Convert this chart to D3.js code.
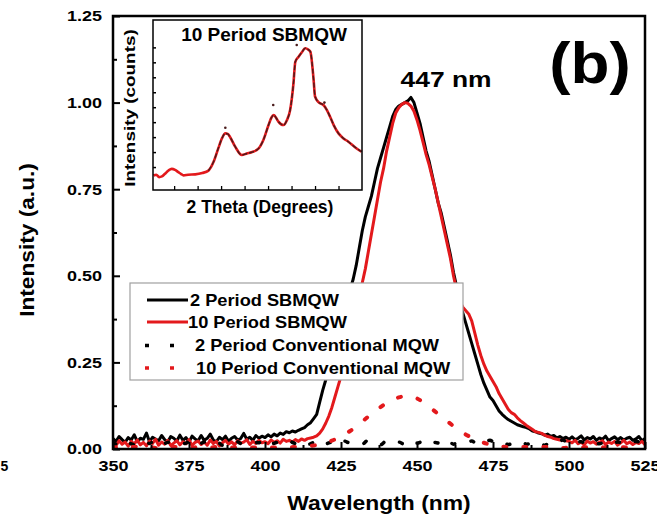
<!DOCTYPE html>
<html>
<head>
<meta charset="utf-8">
<script src="https://cdn.jsdelivr.net/npm/d3@7"></script>
<style>
  body { margin: 0; background: #fff; }
  svg text { font-family: "Liberation Sans", Arial, Helvetica, sans-serif; font-weight: bold; fill: #000; }
</style>
</head>
<body>
<svg id="chart" width="657" height="516"></svg>
<script>
// ---- PL spectra, sampled every 1 nm from 350 nm to 525 nm ----
const sbmqw2Period = [
  .030,.022,.036,.027,.019,.033,.026,.041,.021,.031,
  .028,.046,.021,.034,.029,.024,.039,.027,.020,.036,
  .031,.023,.040,.025,.033,.020,.037,.029,.024,.039,
  .025,.031,.043,.026,.021,.034,.027,.037,.022,.031,
  .036,.026,.030,.045,.028,.034,.025,.039,.031,.037,
  .033,.041,.035,.043,.038,.046,.042,.050,.047,.052,
  .049,.054,.058,.062,.070,.076,.088,.100,.135,.170,
  .200,.235,.270,.300,.330,.365,.400,.430,.460,.490,
  .530,.580,.630,.670,.700,.730,.770,.810,.840,.870,
  .900,.930,.960,.980,.990,.995,1.000,1.005,1.015,1.000,
  .970,.940,.900,.860,.830,.790,.750,.710,.680,.640,
  .600,.560,.510,.470,.430,.395,.365,.335,.305,.275,
  .245,.215,.190,.170,.150,.140,.125,.110,.100,.092,
  .085,.080,.075,.070,.067,.064,.062,.058,.052,.050,
  .046,.044,.040,.043,.036,.039,.032,.036,.030,.034,
  .028,.035,.027,.031,.038,.026,.033,.029,.036,.025,
  .032,.028,.037,.024,.030,.035,.027,.033,.026,.031,
  .034,.025,.029,.036,.024,.030
];
const sbmqw10Period = [
  .018,.010,.024,.014,.020,.008,.022,.015,.026,.012,
  .019,.009,.023,.016,.028,.011,.020,.014,.025,.010,
  .017,.024,.012,.021,.015,.027,.010,.019,.023,.013,
  .020,.011,.026,.016,.022,.009,.018,.025,.014,.021,
  .012,.024,.017,.020,.027,.013,.022,.016,.025,.018,
  .021,.015,.026,.019,.024,.017,.028,.022,.025,.020,
  .027,.022,.029,.025,.030,.032,.034,.038,.046,.058,
  .075,.095,.120,.150,.180,.210,.245,.280,.320,.360,
  .400,.440,.480,.520,.570,.620,.670,.720,.770,.810,
  .860,.900,.940,.970,.985,.995,1.000,.998,.990,.975,
  .950,.920,.885,.850,.820,.785,.750,.710,.670,.630,
  .590,.550,.500,.460,.430,.410,.400,.390,.370,.335,
  .300,.270,.245,.225,.210,.195,.180,.160,.145,.130,
  .115,.105,.100,.090,.082,.075,.068,.062,.056,.050,
  .048,.045,.040,.036,.034,.030,.028,.026,.025,.024,
  .022,.018,.025,.015,.020,.012,.023,.017,.021,.014,
  .019,.024,.013,.020,.016,.022,.011,.018,.025,.015,
  .020,.013,.019,.016,.022,.012
];
// ---- conventional MQW spectra, sampled every 2 nm from 350 nm to 524 nm ----
const conventional2Period = [
  .018,.012,.024,.015,.010,.021,.016,.027,.013,.019,
  .022,.014,.017,.026,.012,.020,.015,.023,.011,.018,
  .025,.016,.013,.021,.018,.028,.014,.019,.012,.022,
  .016,.024,.013,.019,.027,.015,.020,.011,.023,.017,
  .021,.014,.026,.018,.012,.024,.016,.020,.013,.025,
  .017,.022,.011,.019,.015,.027,.014,.020,.016,.023,
  .012,.018,.025,.015,.021,.013,.019,.024,.014,.017,
  .022,.011,.020,.016,.026,.013,.018,.021,.012,.019,
  .015,.023,.014,.020,.017,.012,.022,.016
];
const conventional10Period = [
  .004,.006,.003,.005,.007,.004,.006,.003,.005,.004,
  .006,.004,.005,.003,.006,.005,.004,.006,.003,.005,
  .004,.006,.005,.004,.006,.005,.004,.005,.006,.005,
  .006,.007,.008,.010,.013,.018,.024,.032,.041,.052,
  .065,.079,.094,.108,.121,.133,.143,.149,.152,.151,
  .146,.135,.122,.108,.094,.080,.066,.053,.042,.033,
  .025,.018,.013,.009,.007,.006,.006,.005,.006,.004,
  .005,.006,.004,.005,.003,.005,.006,.004,.005,.004,
  .006,.004,.005,.003,.005,.004,.006,.005
];
const wl1nm = d3.range(350, 526, 1);
const wl2nm = d3.range(350, 525, 2);

// ---- XRD of the 10 period SBMQW (inset) ----
const insetTheta = [32.56,32.62,32.68,32.74,32.80,32.88,32.95,33.02,33.09,33.15,33.20,33.30,33.45,33.60,33.73,
  33.84,33.94,34.02,34.09,34.14,34.19,34.30,34.44,34.55,34.65,34.80,34.90,35.01,35.07,35.12,35.17,35.22,35.33,
  35.40,35.47,35.54,35.58,35.65,35.72,35.79,35.86,35.90,35.97,36.00,36.08,36.18,36.25,36.32,36.40,36.50,36.60,
  36.71,36.85,36.99];
const insetCounts = [.085,.090,.076,.080,.094,.115,.124,.118,.105,.094,.086,.090,.092,.100,.114,
  .166,.245,.305,.333,.330,.312,.255,.206,.215,.222,.245,.294,.382,.425,.441,.425,.402,.382,
  .410,.470,.625,.754,.784,.810,.834,.825,.814,.647,.550,.515,.500,.471,.431,.380,.333,.305,
  .284,.252,.225];
const insetPeakMarks = [[34.09,.366],[35.11,.50],[35.61,.853],[36.20,.514]];

// ---- axis ticks and legend ----
const xTicks = [350, 375, 400, 425, 450, 475, 500, 525];
const xMinorTicks = [362.5, 387.5, 412.5, 437.5, 462.5, 487.5, 512.5];
const yTicks = [0, 0.25, 0.5, 0.75, 1.0, 1.25];
const yMinorTicks = [0.125, 0.375, 0.625, 0.875, 1.125];
const insetThetaTicks = [33, 33.5, 34, 34.5, 35, 35.5, 36, 36.5];
const insetCountTicks = [.135, .223, .311, .399, .487, .575, .663, .751, .839];
const seriesNames = ["2 Period SBMQW", "10 Period SBMQW", "2 Period Conventional MQW", "10 Period Conventional MQW"];

const RED = "#e3191c";
const svg = d3.select("#chart");

// bold text, widened a little horizontally
function label(parent, px, py, str, size, sx, anchor = "start", rotate = 0, baseline = null) {
  const t = parent.append("text")
    .attr("transform", `translate(${px},${py}) rotate(${rotate}) scale(${sx},1)`)
    .attr("text-anchor", anchor).attr("font-size", size).text(str);
  if (baseline) t.attr("dominant-baseline", baseline);
  return t;
}

const x = d3.scaleLinear().domain([350, 525]).range([113, 645]);
const y = d3.scaleLinear().domain([0, 1.25]).range([449, 16]);

svg.append("defs").append("clipPath").attr("id", "plot-clip")
  .append("rect").attr("x", x(350)).attr("y", y(1.25))
  .attr("width", x(525) - x(350)).attr("height", y(0) - y(1.25));

const plot = svg.append("g").attr("clip-path", "url(#plot-clip)");
const line = d3.line().x(d => x(d[0])).y(d => y(d[1]));
const smooth = d3.line().x(d => x(d[0])).y(d => y(d[1])).curve(d3.curveMonotoneX);

plot.append("path").datum(d3.zip(wl1nm, sbmqw2Period))
  .attr("d", line).attr("fill", "none").attr("stroke", "#000")
  .attr("stroke-width", 3).attr("stroke-linejoin", "round");
plot.append("path").datum(d3.zip(wl1nm, sbmqw10Period))
  .attr("d", line).attr("fill", "none").attr("stroke", RED)
  .attr("stroke-width", 3).attr("stroke-linejoin", "round");
plot.append("path").datum(d3.zip(wl2nm, conventional2Period))
  .attr("d", smooth).attr("fill", "none").attr("stroke", "#000")
  .attr("stroke-width", 3.5).attr("stroke-linecap", "round").attr("stroke-dasharray", "3,17");
plot.append("path").datum(d3.zip(wl2nm, conventional10Period))
  .attr("d", smooth).attr("fill", "none").attr("stroke", RED)
  .attr("stroke-width", 4).attr("stroke-linecap", "round").attr("stroke-dasharray", "3,17");

// axes: ticks point into the plot
const TICK_SX = 1.2;
function styleAxis(g) {
  g.select(".domain").remove();
  g.attr("font-family", "'Liberation Sans', Arial, sans-serif").attr("font-weight", "bold").attr("font-size", 15);
  g.selectAll("line").attr("stroke", "#000").attr("stroke-width", 2);
}
svg.append("g").attr("transform", `translate(0,${y(0)})`)
  .call(d3.axisBottom(x).tickValues(xTicks).tickFormat(d3.format("d")).tickSize(-7).tickPadding(11))
  .call(styleAxis)
  .call(g => g.selectAll("text").attr("transform", `scale(${TICK_SX},1)`));
svg.append("g").attr("transform", `translate(0,${y(0)})`)
  .call(d3.axisBottom(x).tickValues(xMinorTicks).tickFormat("").tickSize(-4))
  .call(styleAxis);
svg.append("g").attr("transform", `translate(${x(350)},0)`)
  .call(d3.axisLeft(y).tickValues(yTicks).tickFormat(d3.format(".2f")).tickSize(-7).tickPadding(11))
  .call(styleAxis)
  .call(g => g.selectAll("text").attr("transform", `scale(${TICK_SX},1)`).attr("x", -11 / TICK_SX));
svg.append("g").attr("transform", `translate(${x(350)},0)`)
  .call(d3.axisLeft(y).tickValues(yMinorTicks).tickFormat("").tickSize(-4))
  .call(styleAxis);

svg.append("rect").attr("x", x(350)).attr("y", y(1.25))
  .attr("width", x(525) - x(350)).attr("height", y(0) - y(1.25))
  .attr("fill", "none").attr("stroke", "#000").attr("stroke-width", 2.5);

// axis titles and annotations
label(svg, 27, 240, "Intensity (a.u.)", 21, 1.08, "middle", -90, "central");
label(svg, 379, 510, "Wavelength (nm)", 21, 1.09, "middle");
label(svg, 446, 87, "447 nm", 22, 1.2, "middle");
label(svg, 590, 83, "(b)", 58, 1.1, "middle");
label(svg, 0.5, 471, "5", 14, 1.0, "start");

// ---- inset: XRD pattern ----
const ix = d3.scaleLinear().domain([32.55, 37.0]).range([153, 362]);
const iy = d3.scaleLinear().domain([0, 1]).range([190, 20]);
const inset = svg.append("g");
inset.append("rect").attr("x", 153).attr("y", 20).attr("width", 209).attr("height", 170).attr("fill", "#fff");
const iline = d3.line().x(d => ix(d[0])).y(d => iy(d[1])).curve(d3.curveMonotoneX);
const insetData = d3.zip(insetTheta, insetCounts);
inset.append("path").datum(insetData).attr("d", iline).attr("fill", "none")
  .attr("stroke", RED).attr("stroke-width", 2.6).attr("stroke-linejoin", "round");
inset.append("path").datum(insetData.filter(d => d[0] > 33.6)).attr("d", iline).attr("fill", "none")
  .attr("stroke", "#4a1c1c").attr("stroke-width", 1.4).attr("stroke-dasharray", "5,2");
inset.selectAll("circle.mark").data(insetPeakMarks).join("circle")
  .attr("cx", d => ix(d[0])).attr("cy", d => iy(d[1])).attr("r", 1.3).attr("fill", "#4a1c1c");
inset.append("g").attr("transform", "translate(0,190)")
  .call(d3.axisBottom(ix).tickValues(insetThetaTicks).tickFormat("").tickSize(-4))
  .call(g => { g.select(".domain").remove(); g.selectAll("line").attr("stroke", "#000").attr("stroke-width", 1.3); });
inset.append("g").attr("transform", "translate(153,0)")
  .call(d3.axisLeft(iy).tickValues(insetCountTicks).tickFormat("").tickSize(-3))
  .call(g => { g.select(".domain").remove(); g.selectAll("line").attr("stroke", "#000").attr("stroke-width", 1.5); });
inset.append("rect").attr("x", 153).attr("y", 20).attr("width", 209).attr("height", 170)
  .attr("fill", "none").attr("stroke", "#000").attr("stroke-width", 1.5);
label(inset, 264, 41, "10 Period SBMQW", 19, 1.0, "middle");
label(inset, 260, 213, "2 Theta (Degrees)", 17.5, 1.0, "middle");
label(inset, 130, 108, "Intensity (counts)", 14, 1.35, "middle", -90, "central");

// ---- legend ----
const legend = svg.append("g");
legend.append("rect").attr("x", 130).attr("y", 283).attr("width", 333).attr("height", 97)
  .attr("fill", "#fff").attr("stroke", "#a0a0a0").attr("stroke-width", 1.2);
const legendRows = [
  { name: seriesNames[0], color: "#000", dash: null, tx: 190, cy: 300 },
  { name: seriesNames[1], color: RED, dash: null, tx: 188, cy: 322 },
  { name: seriesNames[2], color: "#000", dash: "4,21", tx: 195, cy: 345.5 },
  { name: seriesNames[3], color: RED, dash: "4,21", tx: 196, cy: 368 }
];
legendRows.forEach(r => {
  legend.append("line").attr("x1", r.dash ? 145 : 147).attr("x2", r.dash ? 190 : 188)
    .attr("y1", r.cy).attr("y2", r.cy).attr("stroke", r.color)
    .attr("stroke-width", r.dash ? 3.5 : 3.2)
    .attr("stroke-dasharray", r.dash);
  label(legend, r.tx, r.cy, r.name, 16, 1.14, "start", 0, "central");
});
</script>
</body>
</html>
